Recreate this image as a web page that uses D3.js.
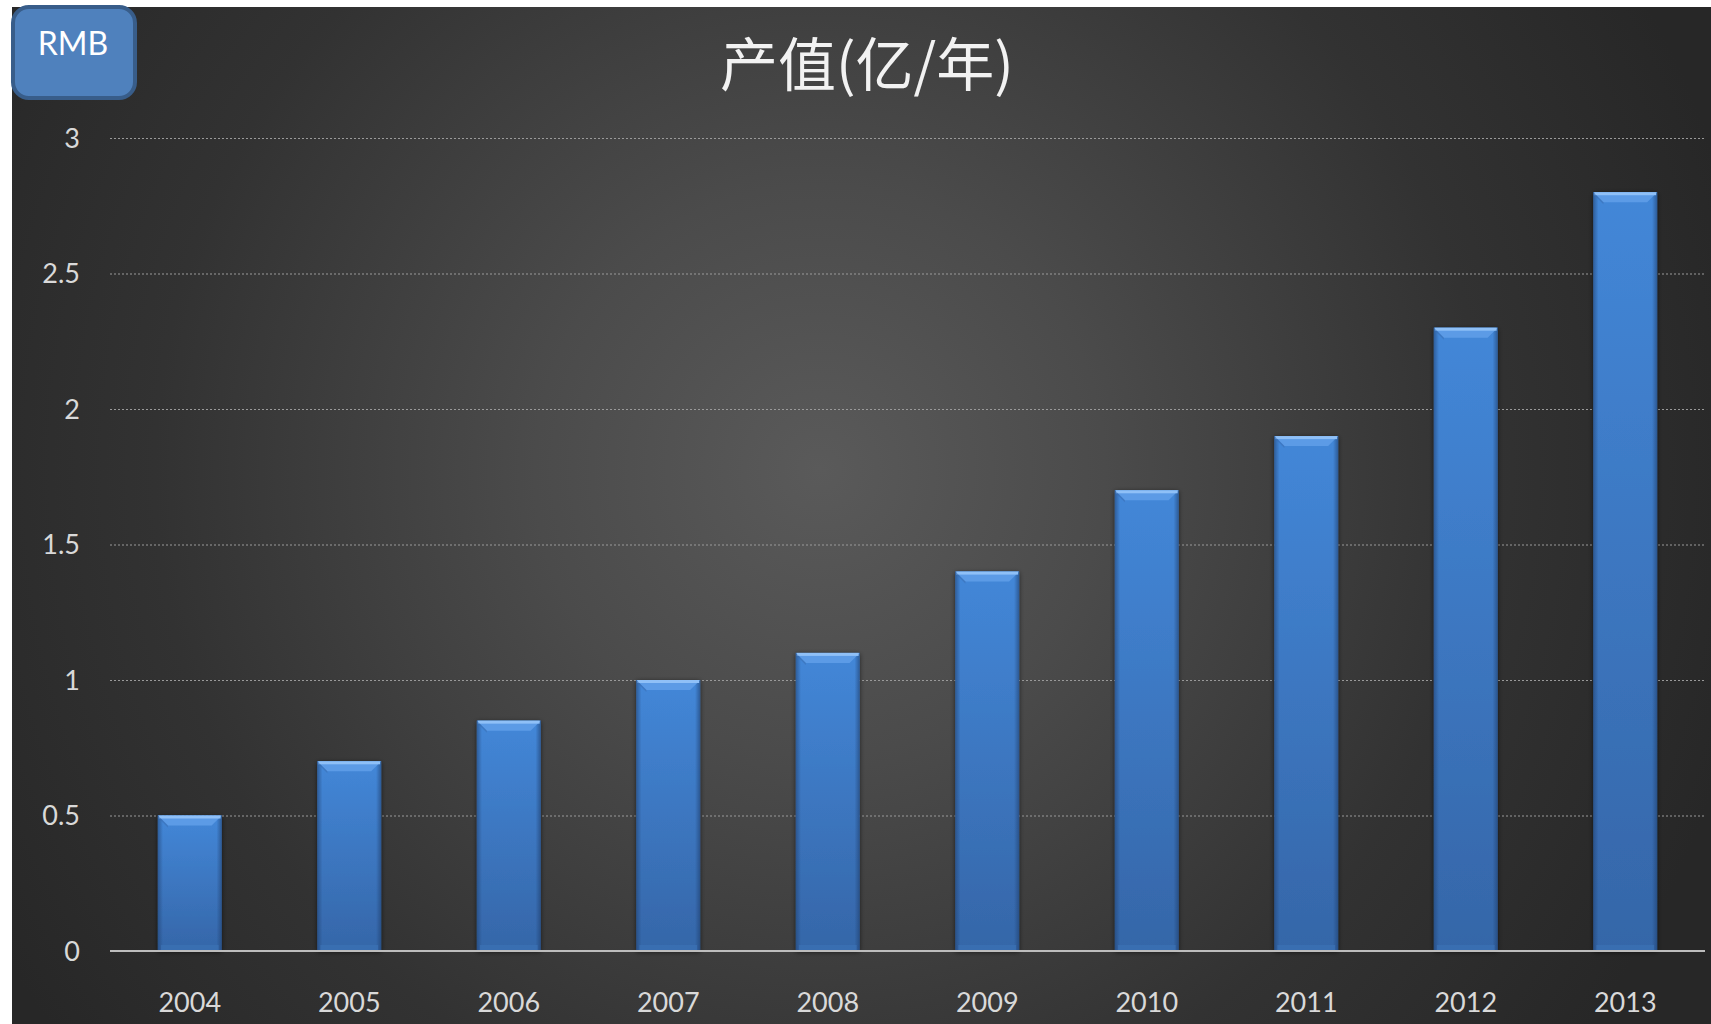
<!DOCTYPE html>
<html><head><meta charset="utf-8">
<script src="https://cdn.jsdelivr.net/npm/d3@7/dist/d3.min.js"></script>
<style>html,body{margin:0;padding:0;background:#fff;overflow:hidden}</style>
</head><body>
<svg id="c" width="1711" height="1024"></svg>
<script>
const categories = ["2004","2005","2006","2007","2008","2009","2010","2011","2012","2013"];
const values = [0.5,0.7,0.85,1.0,1.1,1.4,1.7,1.9,2.3,2.8];
const yTicks = [0,0.5,1,1.5,2,2.5,3];
const yTickLabels = ["0","0.5","1","1.5","2","2.5","3"];
const title = "产值(亿/年)";
const unitLabel = "RMB";

const svg = d3.select("#c");
const defs = svg.append("defs");
const bg = defs.append("radialGradient").attr("id","bg").attr("gradientUnits","userSpaceOnUse")
  .attr("cx",820).attr("cy",470).attr("r",950);
bg.append("stop").attr("offset","0").attr("stop-color","#5a5a5a");
bg.append("stop").attr("offset","0.3").attr("stop-color","#4b4b4b");
bg.append("stop").attr("offset","0.7").attr("stop-color","#323232");
bg.append("stop").attr("offset","1").attr("stop-color","#272727");

const gv = defs.append("linearGradient").attr("id","barV").attr("x1",0).attr("y1",0).attr("x2",0).attr("y2",1);
gv.append("stop").attr("offset","0").attr("stop-color","#4387d8");
gv.append("stop").attr("offset","1").attr("stop-color","#3566a8");
const gh = defs.append("linearGradient").attr("id","barH").attr("x1",0).attr("y1",0).attr("x2",1).attr("y2",0);
gh.append("stop").attr("offset","0").attr("stop-color","#1f3f6e").attr("stop-opacity",0.55);
gh.append("stop").attr("offset","0.08").attr("stop-color","#1f3f6e").attr("stop-opacity",0);
gh.append("stop").attr("offset","0.92").attr("stop-color","#1f3f6e").attr("stop-opacity",0);
gh.append("stop").attr("offset","1").attr("stop-color","#1f3f6e").attr("stop-opacity",0.6);
const flt = defs.append("filter").attr("id","sh").attr("x","-20%").attr("y","-5%").attr("width","140%").attr("height","110%");
flt.append("feGaussianBlur").attr("in","SourceAlpha").attr("stdDeviation",2.5).attr("result","b");
flt.append("feOffset").attr("in","b").attr("dx",0).attr("dy",1).attr("result","o");
flt.append("feComponentTransfer").attr("in","o").attr("result","o2").append("feFuncA").attr("type","linear").attr("slope",0.6);
const fm = flt.append("feMerge"); fm.append("feMergeNode").attr("in","o2"); fm.append("feMergeNode").attr("in","SourceGraphic");

svg.append("rect").attr("x",12).attr("y",7).attr("width",1711-12).attr("height",1024-7).attr("fill","url(#bg)");

const x = d3.scaleBand().domain(categories).range([110,1705]).paddingInner(0.6).paddingOuter(0.3);
const y = d3.scaleLinear().domain([0,3]).range([951,138]);

const font = "Lato, 'Open Sans', 'Noto Sans', sans-serif";

// gridlines
const grid = svg.append("g").call(d3.axisLeft(y).tickValues(yTicks.filter(d=>d>0)).tickSize(-(1705-110)).tickFormat(""))
  .attr("transform","translate(110,0)");
grid.select(".domain").remove();
grid.selectAll("line").attr("stroke","#9a9a9a").attr("stroke-dasharray","2,2").attr("stroke-width",1);

// y labels
const ya = svg.append("g").attr("transform","translate(80,0)")
  .call(d3.axisLeft(y).tickValues(yTicks).tickSize(0).tickPadding(0).tickFormat((d,i)=>yTickLabels[i]));
ya.select(".domain").remove();
ya.selectAll("text").attr("font-family",font).attr("font-size",27).attr("fill","#d9d9d9").attr("dy","0.35em");

// bars
const bars = svg.append("g").selectAll("g").data(values).join("g");
bars.each(function(v,i){
  const g = d3.select(this);
  const bx = x(categories[i]), bw = x.bandwidth(), by = y(v), bh = y(0)-y(v);
  g.append("rect").attr("x",bx).attr("y",by).attr("width",bw).attr("height",bh).attr("fill","url(#barV)").attr("filter","url(#sh)");
  g.append("rect").attr("x",bx).attr("y",by).attr("width",bw).attr("height",bh).attr("fill","url(#barH)");
  g.append("rect").attr("x",bx+3).attr("y",y(0)-6).attr("width",bw-6).attr("height",6).attr("fill","#3b70b3").attr("opacity",0.8);
  const t = 10;
  g.append("path").attr("d",`M${bx},${by} L${bx+bw},${by} L${bx+bw-t},${by+t} L${bx+t},${by+t} Z`).attr("fill","#5c9be6");
  g.append("rect").attr("x",bx+1).attr("y",by).attr("width",bw-2).attr("height",3).attr("fill","#8fc0f7");
  g.append("path").attr("d",`M${bx},${by} L${bx+t},${by+t} L${bx+t},${by+t+2} L${bx},${by+2} Z`).attr("fill","#3a6cb0").attr("opacity",0.5);
});

// baseline
svg.append("line").attr("x1",110).attr("x2",1705).attr("y1",y(0)).attr("y2",y(0)).attr("stroke","#bdbdbd").attr("stroke-width",2);

// x labels
const xa = svg.append("g").attr("transform","translate(0,1012)")
  .call(d3.axisBottom(x).tickSize(0).tickPadding(0));
xa.select(".domain").remove();
xa.selectAll("text").attr("font-family",font).attr("font-size",27).attr("fill","#d9d9d9").attr("dy","0");

// title
svg.append("text").attr("x",867).attr("y",86).attr("text-anchor","middle")
  .attr("font-family","'Noto Sans CJK SC', sans-serif").attr("font-size",58).attr("font-weight",400)
  .attr("fill","#f2f2f2").text(title);

// RMB box
svg.append("rect").attr("x",13).attr("y",7).attr("width",122).attr("height",91).attr("rx",16)
  .attr("fill","#4f81bd").attr("stroke","#385d8a").attr("stroke-width",4);
svg.append("text").attr("x",73).attr("y",55).attr("text-anchor","middle")
  .attr("font-family",font).attr("font-size",32).attr("fill","#ffffff").text(unitLabel);
</script>
</body></html>
